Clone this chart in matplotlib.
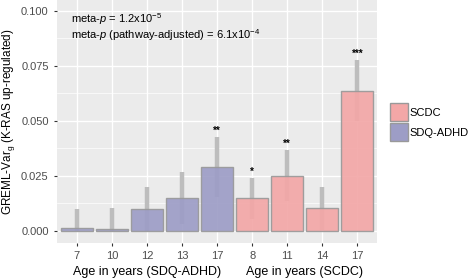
import matplotlib
matplotlib.use("Agg")
import matplotlib.pyplot as plt
import matplotlib.transforms as mtransforms
from matplotlib.patches import Patch

plt.rcParams['font.family'] = ['Liberation Sans', 'DejaVu Sans']
plt.rcParams['mathtext.fontset'] = 'custom'
plt.rcParams['mathtext.it'] = 'Liberation Sans:italic'
plt.rcParams['mathtext.rm'] = 'Liberation Sans'

# data
ages_adhd = ["7", "10", "12", "13", "17"]
var_adhd = [0.0015, 0.001, 0.010, 0.015, 0.029]
upper_adhd = [0.010, 0.0105, 0.020, 0.027, 0.0426]
stars_adhd = ["", "", "", "", "**"]

ages_scdc = ["8", "11", "14", "17"]
var_scdc = [0.0148, 0.0251, 0.0103, 0.0637]
upper_scdc = [0.0242, 0.0366, 0.020, 0.0776]
stars_scdc = ["*", "**", "", "***"]

yticks = [0.000, 0.025, 0.050, 0.075, 0.100]

col_adhd = "#9d9dc6"
col_scdc = "#f3a7a7"

fig = plt.figure(figsize=(4.73, 2.79), dpi=100)
ax = fig.add_axes([0.1205, 0.129, 0.677, 0.871])
ax.set_facecolor("#ebebeb")

labels = ages_adhd + ages_scdc
vals = var_adhd + var_scdc
uppers = upper_adhd + upper_scdc
stars = stars_adhd + stars_scdc
cols = [col_adhd] * len(ages_adhd) + [col_scdc] * len(ages_scdc)
xs = list(range(len(labels)))

for x, v, u in zip(xs, vals, uppers):
    lo = max(v - (u - v), 0)
    ax.plot([x, x], [lo, u], color="#bdbdbd", lw=3.2, zorder=2,
            solid_capstyle="butt")
ax.bar(xs, vals, width=0.9, color=cols, edgecolor="#999999", lw=1.0,
       alpha=0.92, zorder=3)
for x, u, s in zip(xs, uppers, stars):
    if s:
        ax.text(x, u + 0.0005, s, ha="center", va="bottom", fontsize=7,
                fontweight="bold", zorder=4)

ax.set_xlim(-0.57, len(labels) - 0.43)
ax.set_ylim(-0.0055, 0.105)
ax.set_yticks(yticks)
ax.set_yticklabels(["%.3f" % t for t in yticks])
ax.set_yticks([0.0125, 0.0375, 0.0625, 0.0875], minor=True)
ax.set_xticks(xs)
ax.set_xticklabels(labels)
ax.grid(True, which="major", color="white", lw=1.0)
ax.grid(True, which="minor", axis="y", color="white", lw=0.5)
ax.set_axisbelow(True)
for sp in ax.spines.values():
    sp.set_visible(False)
ax.tick_params(which="major", length=2.5, color="#333333", labelsize=8,
               labelcolor="#4d4d4d")
ax.tick_params(which="minor", length=0)

ax.set_ylabel(r"GREML-Var$_\mathregular{g}$ (K-RAS up-regulated)", fontsize=8.5,
              labelpad=3)
trans = mtransforms.blended_transform_factory(ax.transData, ax.transAxes)
ax.text((len(ages_adhd) - 1) / 2, -0.12, "Age in years (SDQ-ADHD)",
        ha="center", va="center", fontsize=9, transform=trans)
ax.text(len(ages_adhd) + (len(ages_scdc) - 1) / 2, -0.12,
        "Age in years (SCDC)", ha="center", va="center", fontsize=9,
        transform=trans)

ax.text(-0.17, 0.0928,
        r"meta-$p$ = 1.2x10$^{\mathregular{-5}}$" + "\n"
        + r"meta-$p$ (pathway-adjusted) = 6.1x10$^{\mathregular{-4}}$",
        fontsize=8, va="center", linespacing=1.05)

handles = [Patch(facecolor=col_scdc, edgecolor="#999999", label="SCDC"),
           Patch(facecolor=col_adhd, edgecolor="#999999", label="SDQ-ADHD")]
fig.legend(handles=handles, loc="upper left", bbox_to_anchor=(0.815, 0.645),
           frameon=False, fontsize=8, handlelength=1.6, handleheight=2.0,
           handletextpad=0.2, labelspacing=0.25, borderaxespad=0)

fig.savefig("out.png", dpi=100)
